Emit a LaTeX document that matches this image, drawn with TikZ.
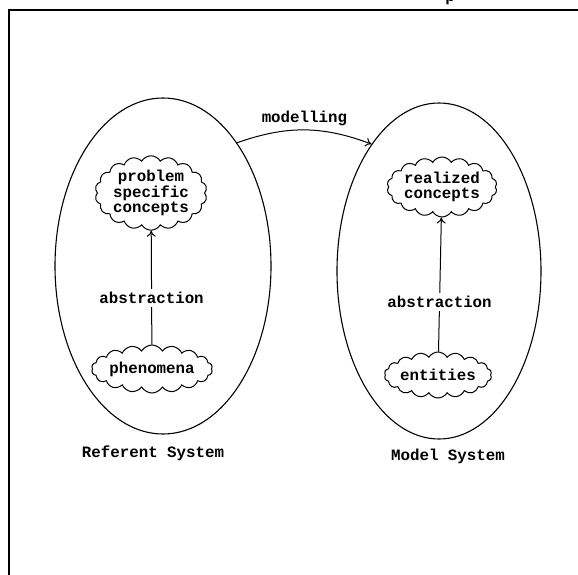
\documentclass[tikz,border=0pt]{standalone}
\usepackage{fontspec}
\setmonofont{Liberation Mono}
\usetikzlibrary{arrows.meta,shapes.geometric,shapes.symbols,positioning}

\begin{document}
\begin{tikzpicture}[x=1pt,y=-1pt,>={To[length=6pt,width=9pt]},line width=1pt,
    font=\ttfamily\bfseries\fontsize{15.8}{15.5}\selectfont]
  \tikzstyle{system}=[draw,ellipse,line width=1.1pt]
  \tikzstyle{concept}=[draw,cloud,cloud ignores aspect,cloud puffs=18,cloud puff arc=120,align=center,inner sep=0pt]

  \useasboundingbox (0,0) rectangle (578,575);
  \draw[line width=1.6pt] (578,10) -- (9,10) -- (9,575);
  \node[anchor=base,inner sep=0pt] (pfrag) at (450,2) {p};

  \node[system,minimum width=216pt,minimum height=336pt] (ref) at (163,266) {};
  \node[system,minimum width=204pt,minimum height=336pt] (mod) at (439,271) {};

  \node[concept,minimum width=112pt,minimum height=70pt] (psc)  at (151,193) {problem\\specific\\concepts};
  \node[concept,minimum width=110pt,minimum height=60pt] (rc)   at (442,187) {realized\\concepts};
  \node[concept,minimum width=119pt,minimum height=48pt] (phen) at (152,369) {phenomena};
  \node[concept,minimum width=91pt,minimum height=46pt]  (ent)  at (438,375) {entities};

  \node (reflabel) at (153,453) {Referent System};
  \node (modlabel) at (448,456) {Model System};

  \path[->]
  (phen)   edge node[pos=0.41,fill=white] {abstraction} (psc)
  (ent)    edge node[pos=0.37,fill=white] {abstraction} (rc)
  (ref.59) edge [bend left=20] node[above] {modelling} (mod.118);
\end{tikzpicture}
\end{document}
